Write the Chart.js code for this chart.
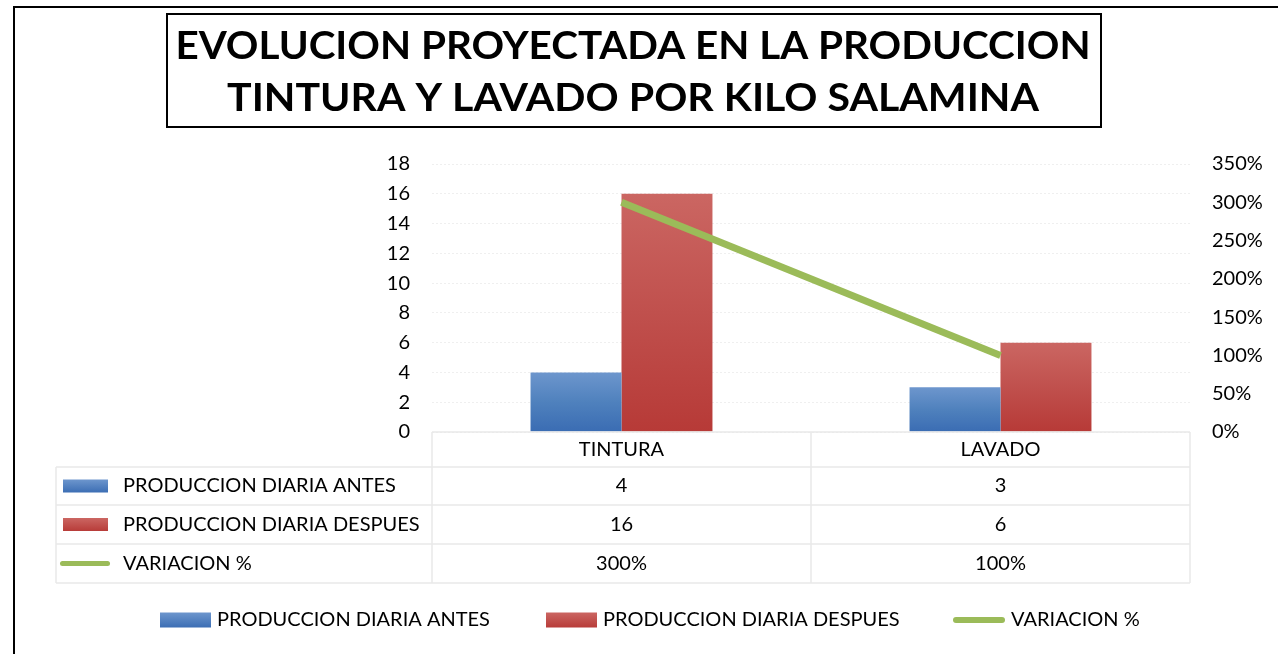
<!DOCTYPE html>
<html>
<head>
<meta charset="utf-8">
<script src="https://cdn.jsdelivr.net/npm/chart.js@4.4.1/dist/chart.umd.min.js"></script>
<style>
  html, body { margin: 0; padding: 0; background: #fff; }
  #wrap { width: 1278px; height: 654px; }
</style>
</head>
<body>
<div id="wrap"><canvas id="miGrafica" width="1278" height="654"></canvas></div>
<script>
// datos
const categorias = ["TINTURA", "LAVADO"];
const antes = [4, 3];
const despues = [16, 6];
const variacion = [3, 1];      // 300%, 100%
const tituloLineas = ["EVOLUCION PROYECTADA EN LA PRODUCCION", "TINTURA Y LAVADO POR KILO SALAMINA"];
const nombres = ["PRODUCCION DIARIA ANTES", "PRODUCCION DIARIA DESPUES", "VARIACION %"];

const FUENTE = "Lato";
const AZUL = "#4f81bd", ROJO = "#c0504d", VERDE = "#9bbb59";

function pct(v) { return Math.round(v * 100) + "%"; }

function degradado(chart, valor, eje, claro, medio, oscuro) {
  const area = chart.chartArea;
  if (!area) return medio;
  const yTop = chart.scales[eje].getPixelForValue(valor);
  const g = chart.ctx.createLinearGradient(0, yTop, 0, area.bottom);
  g.addColorStop(0, claro);
  g.addColorStop(0.5, medio);
  g.addColorStop(1, oscuro);
  return g;
}

function cajaLeyenda(ctx, tipo, x, y, w, h) {
  if (tipo === 2) {
    ctx.save();
    ctx.strokeStyle = VERDE;
    ctx.lineWidth = h;
    ctx.lineCap = "round";
    ctx.beginPath();
    ctx.moveTo(x + h / 2, y);
    ctx.lineTo(x + w - h / 2, y);
    ctx.stroke();
    ctx.restore();
    return;
  }
  const g = ctx.createLinearGradient(0, y - h / 2, 0, y + h / 2);
  if (tipo === 0) { g.addColorStop(0, "#6d96cd"); g.addColorStop(1, "#3c6eb4"); }
  else { g.addColorStop(0, "#cb6662"); g.addColorStop(1, "#b83c39"); }
  ctx.fillStyle = g;
  ctx.fillRect(x, y - h / 2, w, h);
}

const extras = {
  id: "extras",
  beforeDraw(chart) {
    const ctx = chart.ctx;
    ctx.save();
    ctx.fillStyle = "#fff";
    ctx.fillRect(0, 0, chart.width, chart.height);
    ctx.restore();
  },
  afterDraw(chart) {
    const ctx = chart.ctx;
    const area = chart.chartArea;
    const xs = chart.scales.x;
    ctx.save();

    // marco exterior
    ctx.strokeStyle = "#000";
    ctx.lineWidth = 2;
    ctx.beginPath();
    ctx.moveTo(14, chart.height);
    ctx.lineTo(14, 7);
    ctx.lineTo(chart.width, 7);
    ctx.stroke();

    // caja del titulo
    ctx.lineWidth = 2;
    ctx.strokeRect(167, 14, 934, 113);
    ctx.fillStyle = "#000";
    ctx.textAlign = "center";
    ctx.textBaseline = "middle";
    ctx.font = "bold 39px '" + FUENTE + "'";
    const anchos = [915, 812];
    tituloLineas.forEach((t, i) => {
      const w = ctx.measureText(t).width;
      ctx.save();
      ctx.translate(633, [46, 98][i]);
      ctx.scale(anchos[i] / w, 1);
      ctx.fillText(t, 0, 0);
      ctx.restore();
    });

    // tabla de datos
    const filas = [432, 467, 505, 544, 583];
    const izq = 56;
    const cols = [area.left];
    for (let i = 0; i < categorias.length; i++) {
      cols.push(i < categorias.length - 1
        ? (xs.getPixelForValue(i) + xs.getPixelForValue(i + 1)) / 2
        : area.right);
    }
    ctx.strokeStyle = "#e9e9e9";
    ctx.lineWidth = 1.5;
    ctx.beginPath();
    ctx.moveTo(area.left, filas[0]); ctx.lineTo(area.right, filas[0]);
    for (let r = 1; r < filas.length; r++) {
      ctx.moveTo(izq, filas[r]); ctx.lineTo(area.right, filas[r]);
    }
    ctx.moveTo(izq, filas[1]); ctx.lineTo(izq, filas[4]);
    cols.forEach(c => { ctx.moveTo(c, filas[0]); ctx.lineTo(c, filas[4]); });
    ctx.stroke();

    ctx.font = "20px '" + FUENTE + "'";
    ctx.fillStyle = "#000";
    ctx.textAlign = "center";
    const yMid = r => (filas[r] + filas[r + 1]) / 2;
    categorias.forEach((c, i) => ctx.fillText(c, xs.getPixelForValue(i), yMid(0)));
    const series = [antes.map(String), despues.map(String), variacion.map(pct)];
    series.forEach((s, r) => {
      s.forEach((v, i) => ctx.fillText(v, xs.getPixelForValue(i), yMid(r + 1)));
    });
    ctx.textAlign = "left";
    nombres.forEach((n, r) => {
      const y = yMid(r + 1);
      if (r === 2) cajaLeyenda(ctx, 2, 60, y, 50, 5);
      else cajaLeyenda(ctx, r, 63, y, 45, 13);
      ctx.fillStyle = "#000";
      ctx.fillText(n, 123, y);
    });

    // leyenda inferior
    const posLeyenda = [160, 546, 953];
    posLeyenda.forEach((x, i) => {
      if (i === 2) cajaLeyenda(ctx, 2, x, 620, 52, 6);
      else cajaLeyenda(ctx, i, x, 620, 51, 15);
      ctx.fillStyle = "#000";
      ctx.fillText(nombres[i], x + (i === 2 ? 58 : 57), 620);
    });

    ctx.restore();
  }
};

const miGrafica = document.getElementById("miGrafica").getContext("2d");

const chart = new Chart(miGrafica, {
  data: {
    labels: categorias,
    datasets: [
      {
        type: "line",
        label: nombres[2],
        data: variacion,
        yAxisID: "y1",
        borderColor: VERDE,
        borderWidth: 7,
        pointRadius: 0,
        tension: 0,
        order: 0
      },
      {
        type: "bar",
        label: nombres[0],
        data: antes,
        yAxisID: "y",
        backgroundColor: c => degradado(c.chart, c.raw, "y", "#6d96cd", "#4f81bd", "#3a6cb3"),
        categoryPercentage: 0.48,
        barPercentage: 1,
        order: 1
      },
      {
        type: "bar",
        label: nombres[1],
        data: despues,
        yAxisID: "y",
        backgroundColor: c => degradado(c.chart, c.raw, "y", "#cb6662", "#c0504d", "#b73a37"),
        categoryPercentage: 0.48,
        barPercentage: 1,
        order: 1
      }
    ]
  },
  options: {
    responsive: false,
    animation: false,
    layout: { padding: { top: 164, bottom: 222, left: 0, right: 0 } },
    plugins: {
      legend: { display: false },
      tooltip: { enabled: false }
    },
    scales: {
      x: { display: false },
      y: {
        position: "left",
        min: 0, max: 18,
        ticks: { stepSize: 2, padding: 22, color: "#000", font: { family: FUENTE, size: 20 } },
        grid: { color: "#efefef", drawTicks: false },
        border: { display: false, dash: [2, 2] },
        afterFit: s => { s.width = 432; }
      },
      y1: {
        position: "right",
        min: 0, max: 3.5,
        ticks: { stepSize: 0.5, padding: 22, color: "#000", font: { family: FUENTE, size: 20 }, callback: v => pct(v) },
        grid: { display: false, drawTicks: false },
        border: { display: false },
        afterFit: s => { s.width = 88; }
      }
    }
  },
  plugins: [extras]
});
</script>
</body>
</html>
